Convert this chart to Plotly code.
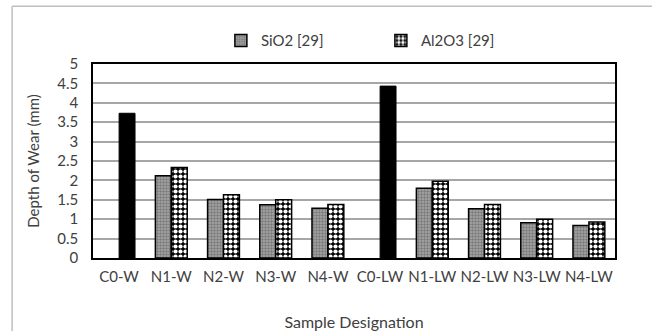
import plotly.graph_objects as go

categories = ["C0-W", "N1-W", "N2-W", "N3-W", "N4-W",
              "C0-LW", "N1-LW", "N2-LW", "N3-LW", "N4-LW"]
sio2 = [None, 2.12, 1.51, 1.37, 1.28, None, 1.80, 1.27, 0.91, 0.84]
al2o3 = [None, 2.33, 1.63, 1.50, 1.38, None, 1.98, 1.38, 1.00, 0.93]
control = [3.73, None, None, None, None, 4.43, None, None, None, None]
y_ticks = [0, 0.5, 1, 1.5, 2, 2.5, 3, 3.5, 4, 4.5, 5]
y_tick_text = ["0", "0.5", "1", "1.5", "2", "2.5", "3", "3.5", "4", "4.5", "5"]

FONT = "Lato, Open Sans, sans-serif"
TXT = "#404040"
FS = 15

fig = go.Figure()
fig.add_trace(go.Bar(
    x=categories, y=sio2, name="SiO2 [29]", offsetgroup="a",
    marker=dict(color="#8c8c8c", line=dict(color="black", width=1.5),
                pattern=dict(shape=".", fgcolor="#4a4a4a", bgcolor="#a8a8a8",
                             size=3, solidity=0.5)),
))
fig.add_trace(go.Bar(
    x=categories, y=al2o3, name="Al2O3 [29]", offsetgroup="b",
    marker=dict(color="white", line=dict(color="black", width=1.5),
                pattern=dict(shape=".", fgcolor="white", bgcolor="black",
                             size=5, solidity=0.55, fillmode="replace")),
))
fig.add_trace(go.Bar(
    x=categories, y=control, name="C0", offsetgroup="b", showlegend=False,
    marker=dict(color="black", line=dict(color="black", width=1)),
))

fig.update_layout(
    width=652, height=331,
    margin=dict(l=93, r=37, t=64, b=73),
    paper_bgcolor="white", plot_bgcolor="white",
    barmode="group", bargap=0.39, bargroupgap=0,
    font=dict(family=FONT, size=FS, color=TXT),
    showlegend=True,
    legend=dict(orientation="h", x=0.245, xanchor="left", y=1.035, yanchor="bottom",
                font=dict(size=FS, color=TXT), itemwidth=30, entrywidth=115,
                bgcolor="rgba(0,0,0,0)"),
    shapes=[
        dict(type="line", xref="paper", yref="paper", x0=-0.155, x1=1.1,
             y0=1.298, y1=1.298, line=dict(color="#bfbfbf", width=1.5)),
        dict(type="line", xref="paper", yref="paper", x0=-0.155, x1=-0.155,
             y0=1.298, y1=-0.4, line=dict(color="#bfbfbf", width=1.5)),
    ],
)
fig.update_xaxes(
    automargin=False,
    showline=True, linecolor="black", linewidth=1.5, mirror=True,
    showgrid=False, ticks="", tickfont=dict(size=FS, color=TXT), ticklabelstandoff=4,
    title=dict(text="Sample Designation", font=dict(size=16, color=TXT), standoff=36),
)
fig.update_yaxes(
    automargin=False,
    range=[0, 5], tickvals=y_ticks, ticktext=y_tick_text,
    showline=True, linecolor="black", linewidth=1.5, mirror=True,
    showgrid=True, gridcolor="#a6a6a6", gridwidth=1.5, zeroline=False,
    ticks="", tickfont=dict(size=FS, color=TXT), ticklabelstandoff=10,
    title=dict(text="Depth of Wear (mm)", font=dict(size=FS, color=TXT), standoff=14),
)

fig.write_html("out.html")
